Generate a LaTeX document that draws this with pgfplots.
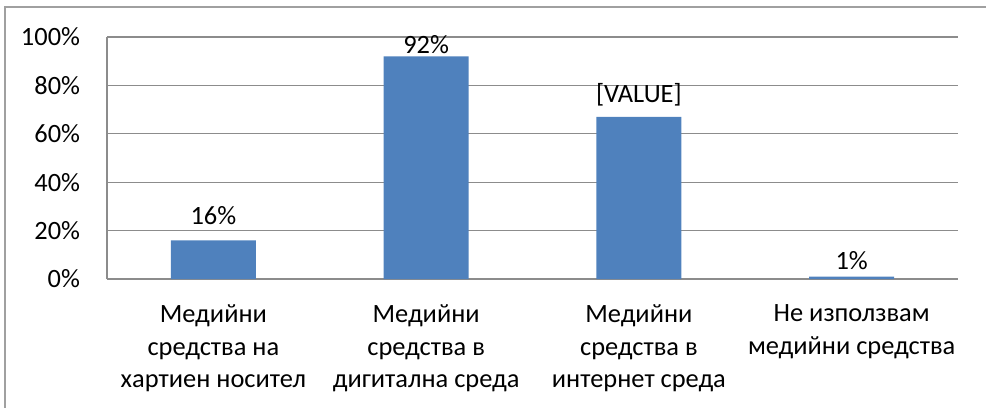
\documentclass[border=0pt]{standalone}
\usepackage{fontspec}
\setmainfont{Carlito}
\usepackage{pgfplots}
\pgfplotsset{compat=1.18}
\definecolor{barblue}{HTML}{4F81BD}
\definecolor{gridgray}{HTML}{8C8C8C}
\definecolor{framegray}{HTML}{A0A0A0}
\begin{document}
\fontsize{26.5}{32.5}\selectfont
\begin{tikzpicture}[x=1bp,y=1bp]
\useasboundingbox (0,0) rectangle (986,407);
\draw[framegray, line width=1.5bp] (5,-5) -- (5,400) -- (995,400);
\begin{axis}[
  at={(107bp,128bp)}, anchor=south west,
  scale only axis, width=851bp, height=242bp,
  xmin=-0.5, xmax=3.5, ymin=0, ymax=100,
  axis x line*=bottom, axis y line*=left,
  axis line style={gridgray, line width=1.2bp, -},
  ymajorgrids, grid style={gridgray, line width=1.2bp},
  major tick length=0pt,
  ytick={0,20,40,60,80,100},
  /pgf/number format/assume math mode=true,
  yticklabel={\pgfmathprintnumber{\tick}\%},
  yticklabel style={font=\fontsize{26.5}{30}\selectfont, xshift=-18bp},
  xtick={0,1,2,3},
  xticklabels={{Медийни\\средства на\\хартиен носител},{Медийни\\средства в\\дигитална среда},{Медийни\\средства в\\интернет среда},{Не използвам\\медийни средства}},
  xticklabel style={font=\fontsize{26.5}{32.5}\selectfont, align=center, anchor=north, yshift=-17bp},
]
\addplot[ybar, fill=barblue, draw=none, bar width=85bp,
  visualization depends on={y \as \rawy},
  nodes near coords, point meta=explicit symbolic,
  nodes near coords style={font=\fontsize{26.5}{30}\selectfont, anchor=center,
    yshift={ifthenelse(\rawy>90,12,ifthenelse(\rawy>50,22.5,ifthenelse(\rawy>10,24.5,16)))}}]
  coordinates {(0,16) [16\%] (1,92) [92\%] (2,67) [{[VALUE]}] (3,1) [1\%]};
\end{axis}
\end{tikzpicture}
\end{document}
